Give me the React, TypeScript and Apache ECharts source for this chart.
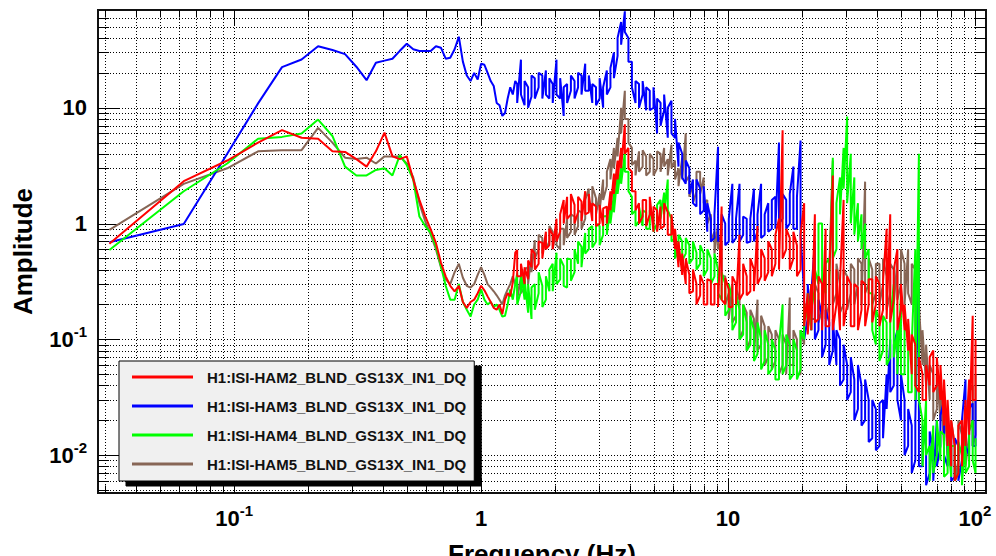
import React, { useEffect, useRef } from 'react';
import * as echarts from 'echarts';

const FONT = "'Liberation Sans', Arial, Helvetica, sans-serif";

const CHANNELS = [
  'H1:ISI-HAM2_BLND_GS13X_IN1_DQ',
  'H1:ISI-HAM3_BLND_GS13X_IN1_DQ',
  'H1:ISI-HAM4_BLND_GS13X_IN1_DQ',
  'H1:ISI-HAM5_BLND_GS13X_IN1_DQ',
];
const COLORS = ['#ff0000', '#0000ff', '#00ff00', '#876656'];
const DRAW_Z = [6, 4, 5, 3];

// low-frequency bins (Hz)
const FREQ_LO = [
  0.03125, 0.0625, 0.09375, 0.125, 0.15625, 0.1875, 0.21875, 0.25, 0.28125, 0.3125,
  0.34375, 0.375, 0.40625, 0.4375, 0.46875, 0.5, 0.53125, 0.5625, 0.59375, 0.625,
  0.65625, 0.6875, 0.71875, 0.75, 0.78125, 0.8125, 0.84375, 0.875, 0.90625, 0.9375,
  0.96875, 1.0, 1.03125, 1.0625, 1.09375, 1.125, 1.15625, 1.1875, 1.21875, 1.25,
  1.28125, 1.3125, 1.34375, 1.375,
];
// higher-frequency samples (Hz); each carries two readings (the two sides of the noisy band)
const FREQ_HI = [
  1.40, 1.45, 1.50, 1.55, 1.60, 1.65, 1.71, 1.77, 1.83, 1.89,
  1.95, 2.02, 2.09, 2.16, 2.23, 2.31, 2.39, 2.47, 2.55, 2.64,
  2.73, 2.82, 2.92, 3.02, 3.12, 3.23, 3.34, 3.45, 3.57, 3.69,
  3.82, 3.95, 4.08, 4.22, 4.36, 4.51, 4.66, 4.82, 4.99, 5.16,
  5.33, 5.51, 5.70, 5.90, 6.10, 6.30, 6.52, 6.74, 6.97, 7.21,
  7.45, 7.71, 7.97, 8.24, 8.52, 8.81, 9.11, 9.42, 9.74, 10.07,
  10.41, 10.77, 11.13, 11.51, 11.90, 12.31, 12.73, 13.16, 13.61, 14.07,
  14.55, 15.04, 15.55, 16.08, 16.63, 17.20, 17.78, 18.39, 19.01, 19.66,
  20.33, 21.02, 21.73, 22.47, 23.24, 24.03, 24.84, 25.69, 26.56, 27.47,
  28.40, 29.37, 30.36, 31.40, 32.46, 33.57, 34.71, 35.89, 37.11, 38.37,
  39.68, 41.03, 42.42, 43.87, 45.36, 46.90, 48.50, 50.14, 51.85, 53.61,
  55.44, 57.32, 59.27, 61.29, 63.37, 65.53, 67.76, 70.06, 72.44, 74.91,
  77.45, 80.09, 82.81, 85.63, 88.54, 91.55, 94.66, 97.88, 100.5,
];

// ---- H1:ISI-HAM2 (red)
const HAM2_LO = [
  0.67, 2.32, 3.5, 5.0, 6.4, 5.5, 5.4, 4.2, 4.15, 3.6,
  3.1, 4.2, 6.1, 3.8, 3.6, 3.8, 2.4, 1.6, 1.16, 0.89,
  0.68, 0.46, 0.35, 0.29, 0.26, 0.29, 0.21, 0.187, 0.21, 0.22,
  0.25, 0.29, 0.265, 0.235, 0.21, 0.187, 0.18, 0.2, 0.165, 0.22,
  0.25, 0.235, 0.31, 0.56,
];
const HAM2_HI_A = [
  0.59, 0.35, 0.30, 0.33, 0.42, 0.55, 0.45, 0.68, 0.85, 0.65,
  0.8, 1.1, 0.85, 1.6, 1.7, 1.2, 1.45, 1.25, 1.55, 1.9,
  1.25, 1.05, 1.4, 1.0, 0.95, 1.4, 1.9, 2.7, 3.5, 4.5,
  7.2, 4.5, 2.8, 1.9, 1.5, 1.15, 1.6, 1.2, 0.85, 1.3,
  1.4, 0.95, 1.25, 0.8, 0.6, 0.42, 0.36, 0.3, 0.36, 0.26,
  0.3, 0.24, 0.3, 0.2, 0.32, 0.2, 0.3, 1.4, 0.2, 0.27,
  0.19, 0.3, 0.8, 0.25, 0.35, 0.26, 0.4, 0.95, 0.35, 0.5,
  0.38, 0.6, 0.45, 1.1, 6.4, 0.6, 0.75, 0.5, 0.65, 0.4,
  1.5, 0.25, 0.3, 1.2, 0.15, 0.3, 0.9, 0.13, 2.6, 0.2,
  0.12, 1.6, 0.2, 0.3, 0.13, 0.28, 0.18, 0.3, 0.2, 0.33,
  0.2, 0.3, 0.18, 0.9, 1.2, 0.22, 0.6, 0.18, 0.12, 0.08,
  0.05, 0.09, 0.035, 0.05, 0.03, 0.04, 0.08, 0.04, 0.03, 0.018,
  0.012, 0.008, 0.012, 0.007, 0.02, 0.03, 0.045, 0.16, 0.03,
];
const HAM2_HI_B = [
  0.35, 0.45, 0.42, 0.48, 0.6, 0.4, 0.7, 0.5, 0.6, 0.9,
  0.6, 0.7, 1.2, 1.0, 1.1, 1.8, 1.0, 1.7, 1.05, 1.2,
  1.8, 1.5, 0.95, 1.45, 1.35, 1.0, 1.3, 1.8, 2.4, 3.0,
  4.0, 3.0, 1.9, 1.3, 1.0, 1.6, 0.95, 1.7, 1.4, 0.85,
  0.9, 1.5, 0.8, 1.2, 0.9, 0.7, 0.55, 0.5, 0.25, 0.4,
  0.2, 0.36, 0.2, 0.33, 0.2, 0.3, 0.19, 0.22, 0.34, 0.19,
  0.35, 0.2, 0.22, 0.45, 0.24, 0.5, 0.26, 0.3, 0.6, 0.32,
  0.7, 0.35, 0.8, 0.4, 0.5, 0.9, 0.4, 0.85, 0.35, 0.8,
  0.13, 0.11, 0.12, 0.14, 0.35, 0.12, 0.13, 0.35, 0.12, 0.4,
  0.32, 0.13, 0.35, 0.13, 0.3, 0.12, 0.32, 0.13, 0.33, 0.14,
  0.35, 0.13, 0.32, 0.15, 0.14, 0.4, 0.12, 0.3, 0.2, 0.15,
  0.11, 0.04, 0.07, 0.03, 0.06, 0.07, 0.035, 0.07, 0.06, 0.045,
  0.03, 0.02, 0.006, 0.018, 0.008, 0.012, 0.015, 0.03, 0.1,
];

// ---- H1:ISI-HAM3 (blue)
const HAM3_LO = [
  0.69, 0.99, 4.0, 10.9, 22.4, 26.1, 34, 31.5, 29, 22.6,
  17.3, 24.5, 25.5, 26.5, 31, 35.7, 32, 30.9, 30.9, 30.9,
  34, 33, 26.5, 27, 32, 41, 25, 19, 17, 20,
  17.5, 24, 23.5, 20, 17, 15.4, 11, 10.5, 8.5, 9,
  12, 15, 13, 17,
];
const HAM3_HI_A = [
  16, 26, 10.5, 15, 12.5, 18, 15, 19, 21, 12,
  16, 26, 12, 8.5, 16, 14, 17, 15, 19, 24,
  14, 11, 15, 12, 10, 21, 15, 30, 28, 55,
  68, 40, 25, 11, 16, 13, 9.5, 14, 10, 6,
  11, 9.5, 5.5, 11.5, 5.5, 3.1, 4.0, 2.2, 3.0, 2.4,
  1.4, 2.0, 1.3, 0.85, 1.1, 0.75, 4.6, 0.8, 1.0, 0.7,
  2.2, 0.75, 2.2, 0.8, 1.1, 0.7, 2.0, 0.85, 2.2, 0.8,
  1.5, 0.9, 1.7, 5.0, 1.1, 1.6, 1.0, 3.1, 0.9, 5.2,
  0.25, 0.15, 0.12, 0.7, 0.12, 0.16, 0.09, 0.14, 0.08, 0.06,
  0.1, 0.045, 0.06, 0.035, 0.045, 0.025, 0.04, 0.02, 0.03, 0.014,
  0.025, 0.012, 0.03, 0.05, 0.1, 0.04, 0.12, 0.02, 0.03, 0.012,
  0.018, 0.009, 0.7, 0.008, 0.012, 0.007, 0.011, 0.02, 0.012, 0.03,
  0.008, 0.015, 0.0065, 0.012, 0.009, 0.045, 0.01, 0.028, 0.012,
];
const HAM3_HI_B = [
  11, 13, 17, 10, 19, 12, 20, 12, 13, 18,
  11, 13, 18, 15, 11, 19, 12, 20, 13, 14,
  19, 16, 10.5, 18, 15, 13, 22, 18, 40, 35,
  45, 25, 15, 17, 10, 17, 15, 9.5, 15, 12,
  7, 13, 10, 6, 8, 5, 2.5, 3.5, 1.8, 1.5,
  2.4, 1.2, 2.1, 1.5, 0.7, 1.2, 0.7, 1.2, 0.65, 1.1,
  0.68, 1.1, 0.7, 1.15, 0.68, 1.1, 0.7, 1.2, 0.75, 1.2,
  0.85, 1.6, 0.9, 1.0, 1.8, 0.9, 1.8, 0.9, 1.7, 0.8,
  0.1, 0.3, 0.25, 0.1, 0.22, 0.07, 0.18, 0.06, 0.15, 0.12,
  0.04, 0.09, 0.03, 0.07, 0.02, 0.06, 0.018, 0.045, 0.013, 0.03,
  0.011, 0.028, 0.014, 0.025, 0.035, 0.09, 0.03, 0.05, 0.01, 0.025,
  0.007, 0.02, 0.008, 0.018, 0.0055, 0.016, 0.006, 0.008, 0.022, 0.01,
  0.018, 0.006, 0.014, 0.006, 0.02, 0.012, 0.025, 0.012, 0.03,
];

// ---- H1:ISI-HAM4 (green)
const HAM4_LO = [
  0.59, 1.9, 3.3, 5.4, 5.6, 6.0, 7.9, 5.7, 3.1, 2.6,
  2.6, 2.9, 3.0, 2.6, 3.9, 3.2, 2.4, 1.15, 0.95, 0.83,
  0.63, 0.43, 0.29, 0.22, 0.22, 0.3, 0.21, 0.18, 0.157, 0.2,
  0.22, 0.27, 0.22, 0.2, 0.21, 0.19, 0.2, 0.18, 0.157, 0.16,
  0.2, 0.27, 0.22, 0.3,
];
const HAM4_HI_A = [
  0.37, 0.26, 0.22, 0.17, 0.15, 0.3, 0.25, 0.29, 0.22, 0.26,
  0.45, 0.56, 0.33, 0.43, 0.28, 0.49, 0.38, 0.45, 0.63, 0.83,
  0.6, 0.95, 0.7, 0.95, 0.8, 1.16, 1.4, 1.8, 2.7, 3.1,
  4.1, 2.8, 1.7, 1.3, 1.05, 0.95, 1.25, 0.9, 1.2, 1.0,
  1.6, 1.85, 2.4, 1.1, 0.75, 0.6, 0.7, 0.55, 0.65, 0.5,
  0.56, 0.45, 0.55, 0.4, 0.5, 0.35, 0.4, 0.22, 0.3, 0.18,
  0.22, 0.14, 0.18, 0.11, 0.14, 0.09, 0.12, 0.075, 0.1, 0.065,
  0.09, 0.055, 0.08, 0.045, 0.2, 0.06, 0.09, 0.05, 0.08, 0.055,
  0.1, 0.15, 0.12, 0.2, 0.3, 1.0, 0.25, 0.5, 3.7, 0.6,
  2.5, 4.5, 8.4, 4.0, 2.5, 1.5, 1.2, 1.0, 0.6, 0.25,
  0.09, 0.15, 0.08, 0.14, 0.07, 0.3, 0.12, 0.25, 0.05, 0.12,
  0.035, 0.6, 4.0, 0.02, 0.03, 0.012, 0.018, 0.01, 0.009, 0.015,
  0.007, 0.0065, 0.012, 0.007, 0.01, 0.015, 0.008, 0.02, 0.007,
];
const HAM4_HI_B = [
  0.2, 0.38, 0.33, 0.3, 0.28, 0.18, 0.38, 0.19, 0.35, 0.4,
  0.26, 0.3, 0.5, 0.29, 0.5, 0.32, 0.6, 0.7, 0.42, 0.55,
  0.9, 0.62, 1.0, 0.65, 1.15, 0.8, 1.0, 1.25, 1.8, 2.2,
  2.8, 1.9, 1.2, 0.95, 1.4, 1.3, 0.9, 1.3, 0.85, 1.45,
  1.1, 1.2, 1.3, 0.7, 0.5, 0.8, 0.48, 0.75, 0.45, 0.7,
  0.4, 0.65, 0.35, 0.6, 0.3, 0.55, 0.25, 0.38, 0.16, 0.3,
  0.12, 0.25, 0.1, 0.2, 0.08, 0.16, 0.065, 0.14, 0.055, 0.12,
  0.05, 0.1, 0.045, 0.09, 0.05, 0.11, 0.045, 0.1, 0.045, 0.12,
  0.2, 0.25, 0.3, 0.4, 1.0, 0.3, 0.45, 0.3, 0.5, 1.5,
  1.2, 2.0, 1.5, 1.0, 0.8, 0.7, 0.6, 0.5, 0.25, 0.12,
  0.18, 0.065, 0.16, 0.06, 0.15, 0.07, 0.05, 0.05, 0.12, 0.035,
  0.09, 0.03, 0.03, 0.008, 0.01, 0.006, 0.007, 0.02, 0.016, 0.0065,
  0.014, 0.012, 0.006, 0.013, 0.0055, 0.007, 0.016, 0.009, 0.014,
];

// ---- H1:ISI-HAM5 (brown)
const HAM5_LO = [
  0.88, 2.2, 3.0, 4.2, 4.3, 4.3, 6.7, 5.0, 3.7, 3.6,
  3.7, 3.3, 3.8, 3.8, 3.8, 3.3, 2.5, 1.5, 1.05, 0.8,
  0.6, 0.42, 0.33, 0.3, 0.38, 0.45, 0.34, 0.29, 0.28, 0.3,
  0.36, 0.42, 0.36, 0.3, 0.28, 0.26, 0.24, 0.22, 0.2, 0.24,
  0.27, 0.3, 0.35, 0.3,
];
const HAM5_HI_A = [
  0.3, 0.35, 0.28, 0.42, 0.55, 0.72, 0.6, 0.75, 0.8, 0.7,
  0.85, 0.95, 0.6, 0.9, 1.1, 0.85, 1.15, 0.95, 1.25, 1.1,
  2.0, 1.5, 1.65, 1.8, 2.4, 2.1, 3.6, 4.5, 5.5, 10,
  14, 8, 4.5, 3.5, 4.2, 3.1, 3.8, 2.8, 3.6, 3.0,
  4.0, 4.5, 3.6, 4.8, 3.5, 3.0, 3.7, 6.0, 2.6, 2.2,
  1.9, 2.8, 2.5, 1.6, 1.2, 0.85, 1.0, 0.7, 0.35, 0.25,
  0.3, 0.16, 0.22, 0.12, 0.17, 0.1, 0.15, 0.22, 0.09, 0.13,
  0.07, 0.11, 0.065, 0.1, 0.06, 0.09, 0.23, 0.06, 0.1, 0.05,
  0.09, 0.2, 0.3, 0.15, 0.25, 0.18, 0.3, 0.2, 3.5, 0.25,
  0.3, 0.2, 0.35, 0.25, 0.4, 0.3, 0.45, 2.3, 0.3, 0.4,
  0.25, 0.45, 0.3, 0.35, 0.25, 0.4, 0.5, 0.3, 0.45, 0.6,
  0.2, 0.4, 0.08, 0.06, 0.04, 0.03, 0.05, 0.025, 0.02, 0.012,
  0.01, 0.008, 0.012, 0.009, 0.015, 0.02, 0.015, 0.04, 0.015,
];
const HAM5_HI_B = [
  0.22, 0.25, 0.4, 0.3, 0.38, 0.5, 0.8, 0.55, 0.6, 0.95,
  0.6, 0.65, 0.9, 0.65, 0.75, 1.2, 0.8, 1.3, 0.9, 1.6,
  1.3, 2.1, 1.2, 1.3, 1.6, 2.8, 2.4, 3.0, 3.8, 6,
  8, 5, 3.2, 2.6, 2.8, 4.3, 2.6, 4.0, 2.6, 4.2,
  2.8, 3.1, 2.6, 3.0, 2.4, 2.1, 2.4, 2.3, 1.7, 1.5,
  2.8, 1.8, 1.5, 1.0, 0.7, 0.55, 0.6, 0.35, 0.2, 0.15,
  0.14, 0.28, 0.1, 0.2, 0.08, 0.18, 0.07, 0.08, 0.16, 0.06,
  0.13, 0.055, 0.12, 0.05, 0.11, 0.05, 0.06, 0.12, 0.05, 0.12,
  0.2, 0.12, 0.15, 0.3, 0.14, 0.35, 0.15, 0.4, 0.2, 0.45,
  0.17, 0.4, 0.18, 0.45, 0.2, 0.5, 0.2, 0.25, 0.5, 0.2,
  0.45, 0.2, 0.5, 0.18, 0.45, 0.2, 0.22, 0.6, 0.2, 0.25,
  0.45, 0.1, 0.2, 0.12, 0.09, 0.06, 0.02, 0.05, 0.04, 0.03,
  0.025, 0.02, 0.006, 0.02, 0.007, 0.008, 0.035, 0.012, 0.05,
];

const SERIES_LO = [HAM2_LO, HAM3_LO, HAM4_LO, HAM5_LO];
const SERIES_HI_A = [HAM2_HI_A, HAM3_HI_A, HAM4_HI_A, HAM5_HI_A];
const SERIES_HI_B = [HAM2_HI_B, HAM3_HI_B, HAM4_HI_B, HAM5_HI_B];

// axes
const X_MIN = 0.0281;
const X_MAX = 110.8;
const Y_MIN = 0.00471;
const Y_MAX = 69.8;
const X_MAJOR = [0.1, 1, 10, 100];
const X_TICK_LABELS = ['{b|10}{s|-1}', '{b|1}', '{b|10}', '{b|10}{s|2}'];
const Y_MAJOR = [0.01, 0.1, 1, 10];
const Y_TICK_LABELS = ['{b|10}{s|-2}', '{b|10}{s|-1}', '{b|1}', '{b|10}'];
const X_GRID = [
  0.03, 0.04, 0.05, 0.06, 0.07, 0.08, 0.09,
  0.1, 0.2, 0.3, 0.4, 0.5, 0.6, 0.7, 0.8, 0.9,
  1, 2, 3, 4, 5, 6, 7, 8, 9,
  10, 20, 30, 40, 50, 60, 70, 80, 90, 100,
];
const Y_GRID = [
  0.005, 0.006, 0.007, 0.008, 0.009,
  0.01, 0.02, 0.03, 0.04, 0.05, 0.06, 0.07, 0.08, 0.09,
  0.1, 0.2, 0.3, 0.4, 0.5, 0.6, 0.7, 0.8, 0.9,
  1, 2, 3, 4, 5, 6, 7, 8, 9,
  10, 20, 30, 40, 50, 60,
];

const isMajor = (v: number) => Math.abs(Math.log10(v) - Math.round(Math.log10(v))) < 1e-6;
const findLabel = (v: number, majors: number[], labels: string[]) => {
  const i = majors.findIndex((m) => Math.abs(Math.log10(m) - Math.log10(v)) < 1e-6);
  return i >= 0 ? labels[i] : '';
};

const RICH = {
  b: { fontFamily: FONT, fontWeight: 'bold', fontSize: 22, lineHeight: 30, color: '#000' },
  s: { fontFamily: FONT, fontWeight: 'bold', fontSize: 15, lineHeight: 12, verticalAlign: 'top', color: '#000' },
};

function buildSeriesData(si: number) {
  const out: number[][] = FREQ_LO.map((f, i) => [f, SERIES_LO[si][i]]);
  FREQ_HI.forEach((f, i) => {
    out.push([f, SERIES_HI_A[si][i]]);
    out.push([f, SERIES_HI_B[si][i]]);
  });
  return out;
}

export default function App() {
  const ref = useRef<HTMLDivElement>(null);
  useEffect(() => {
    if (!ref.current) return;
    const chart = echarts.init(ref.current, undefined, { renderer: 'svg' });

    const lineSeries = CHANNELS.map((name, si) => ({
      name,
      type: 'line',
      data: buildSeriesData(si),
      showSymbol: false,
      symbol: 'none',
      silent: true,
      z: DRAW_Z[si],
      lineStyle: { color: COLORS[si], width: 2 },
      itemStyle: { color: COLORS[si] },
      emphasis: { disabled: true },
    }));

    const xGrid = {
      type: 'custom',
      silent: true,
      z: 1,
      data: X_GRID.map((v) => [v, 1]),
      renderItem: (params: any, api: any) => {
        const v = api.value(0);
        const pt = api.coord([v, 1]);
        const cs = params.coordSys;
        const x = Math.round(pt[0]) + 0.5;
        const top = cs.y;
        const bot = cs.y + cs.height;
        const len = isMajor(v) ? 15 : 7.5;
        return {
          type: 'group',
          children: [
            { type: 'line', shape: { x1: x, y1: top, x2: x, y2: bot }, style: { stroke: '#000', lineWidth: 1, lineDash: [1, 2] } },
            { type: 'line', shape: { x1: x, y1: bot, x2: x, y2: bot - len }, style: { stroke: '#000', lineWidth: 1 } },
            { type: 'line', shape: { x1: x, y1: top, x2: x, y2: top + len }, style: { stroke: '#000', lineWidth: 1 } },
          ],
        };
      },
    };
    const yGrid = {
      type: 'custom',
      silent: true,
      z: 1,
      data: Y_GRID.map((v) => [1, v]),
      renderItem: (params: any, api: any) => {
        const v = api.value(1);
        const pt = api.coord([1, v]);
        const cs = params.coordSys;
        const y = Math.round(pt[1]) + 0.5;
        const left = cs.x;
        const right = cs.x + cs.width;
        const len = isMajor(v) ? 22 : 11;
        return {
          type: 'group',
          children: [
            { type: 'line', shape: { x1: left, y1: y, x2: right, y2: y }, style: { stroke: '#000', lineWidth: 1, lineDash: [1, 2] } },
            { type: 'line', shape: { x1: left, y1: y, x2: left + len, y2: y }, style: { stroke: '#000', lineWidth: 1 } },
            { type: 'line', shape: { x1: right, y1: y, x2: right - len, y2: y }, style: { stroke: '#000', lineWidth: 1 } },
          ],
        };
      },
    };

    chart.setOption({
      animation: false,
      backgroundColor: '#ffffff',
      grid: {
        left: 98,
        right: 10,
        top: 10,
        bottom: 63,
        containLabel: false,
        outerBoundsMode: 'none',
        show: true,
        borderColor: '#111',
        borderWidth: 2,
        backgroundColor: 'transparent',
      },
      xAxis: {
        type: 'log',
        logBase: 10,
        min: X_MIN,
        max: X_MAX,
        name: 'Frequency (Hz)',
        nameLocation: 'middle',
        nameGap: 48,
        nameTextStyle: { fontFamily: FONT, fontWeight: 'bold', fontSize: 26, color: '#000' },
        axisLine: { show: false },
        axisTick: { show: false },
        splitLine: { show: false },
        minorTick: { show: false },
        axisLabel: {
          margin: 10,
          hideOverlap: false,
          formatter: (v: number) => findLabel(v, X_MAJOR, X_TICK_LABELS),
          rich: RICH,
        },
      },
      yAxis: {
        type: 'log',
        logBase: 10,
        min: Y_MIN,
        max: Y_MAX,
        name: 'Amplitude',
        nameLocation: 'middle',
        nameGap: 62,
        nameTextStyle: { fontFamily: FONT, fontWeight: 'bold', fontSize: 26, color: '#000' },
        axisLine: { show: false },
        axisTick: { show: false },
        splitLine: { show: false },
        minorTick: { show: false },
        axisLabel: {
          margin: 11,
          hideOverlap: false,
          formatter: (v: number) => findLabel(v, Y_MAJOR, Y_TICK_LABELS),
          rich: RICH,
        },
      },
      legend: {
        data: CHANNELS,
        orient: 'vertical',
        left: 119,
        top: 361,
        z: 20,
        icon: 'rect',
        itemWidth: 61,
        itemHeight: 3,
        itemGap: 13,
        padding: [8, 8, 9, 13],
        backgroundColor: '#f0f0f0',
        borderColor: '#000',
        borderWidth: 1,
        shadowColor: '#000',
        shadowBlur: 0,
        shadowOffsetX: 7,
        shadowOffsetY: 5,
        selectedMode: false,
        textStyle: {
          fontFamily: FONT,
          fontWeight: 'bold',
          fontSize: 15,
          lineHeight: 16,
          color: '#111',
          padding: [0, 0, 0, 9],
        },
      },
      series: [xGrid, yGrid, ...lineSeries],
    });

    return () => chart.dispose();
  }, []);

  return (
    <div
      ref={ref}
      style={{ position: 'absolute', left: 0, top: 0, width: 996, height: 556 }}
    />
  );
}
